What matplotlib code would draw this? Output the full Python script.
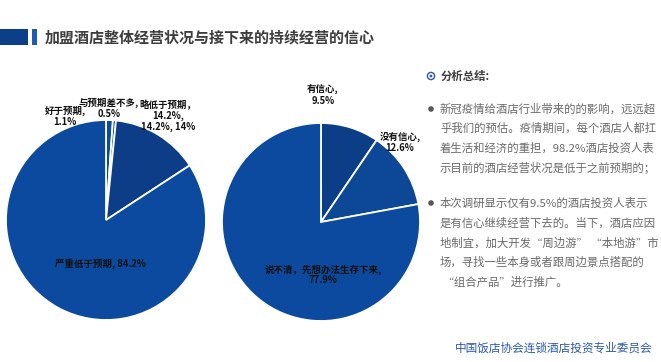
import matplotlib.pyplot as plt
from matplotlib.patches import Rectangle, Ellipse

plt.rcParams['font.family'] = ['Noto Sans CJK SC', 'DejaVu Sans']

W, H = 661, 362

title = '加盟酒店整体经营状况与接下来的持续经营的信心'

# left pie: current operation vs expectation
left_cats = ['好于预期', '与预期差不多', '略低于预期', '严重低于预期']
left_vals = [1.1, 0.5, 14.2, 84.2]
left_colors = ['#0b4a9d', '#0b4a9d', '#0c3d86', '#0b4a9e']
left_texts = ['好于预期,\n1.1%', '与预期差不多,\n0.5%',
              '略低于预期，\n14.2%,\n14.2%, 14%', '严重低于预期, 84.2%']

# right pie: confidence to keep operating
right_cats = ['有信心', '没有信心', '说不清，先想办法生存下来']
right_vals = [9.5, 12.6, 77.9]
right_colors = ['#0b3e86', '#0c4896', '#0b4a9e']
right_texts = ['有信心,\n9.5%', '没有信心,\n12.6%', '说不清，先想办法生存下来,\n77.9%']

summary_head = '分析总结:'
para1 = ['新冠疫情给酒店行业带来的的影响，远远超',
         '乎我们的预估。疫情期间，每个酒店人都扛',
         '着生活和经济的重担，98.2%酒店投资人表',
         '示目前的酒店经营状况是低于之前预期的；']
para2 = ['本次调研显示仅有9.5%的酒店投资人表示',
         '是有信心继续经营下去的。当下，酒店应因',
         '地制宜，加大开发“周边游” “本地游”市',
         '场，寻找一些本身或者跟周边景点搭配的',
         ' “组合产品”进行推广。']
footer = '中国饭店协会连锁酒店投资专业委员会'


def fx(x):
    return x / W


def fy(y):
    return 1 - y / H


def dot(x, y, r, **kw):
    fig.patches.append(Ellipse((fx(x), fy(y)), 2 * r / W, 2 * r / H,
                               transform=fig.transFigure, **kw))


fig = plt.figure(figsize=(W / 100, H / 100), dpi=100)
fig.patch.set_facecolor('white')


def pie_axes(cx, cy, r):
    ax = fig.add_axes([fx(cx - r), fy(cy + r), 2 * r / W, 2 * r / H])
    return ax


ax1 = pie_axes(106, 220, 100)
ax1.pie(left_vals, colors=left_colors, startangle=90, counterclock=False,
        wedgeprops=dict(edgecolor='white', linewidth=1.3))
ax1.set_xlim(-1, 1)
ax1.set_ylim(-1, 1)
ax1.axis('off')

ax2 = pie_axes(321, 222, 99)
ax2.pie(right_vals, colors=right_colors, startangle=90, counterclock=False,
        wedgeprops=dict(edgecolor='white', linewidth=1.3))
ax2.set_xlim(-1, 1)
ax2.set_ylim(-1, 1)
ax2.axis('off')

lab_kw = dict(fontsize=6.8, fontweight='bold', color='#111111',
              ha='center', va='top', linespacing=1.05)
left_pos = [(65, 106), (109, 98), (168, 100), (100, 258)]
for (x, y), t in zip(left_pos, left_texts):
    fig.text(fx(x), fy(y), t, **lab_kw)
right_pos = [(323, 85), (400, 132), (323, 264)]
for (x, y), t in zip(right_pos, right_texts):
    fig.text(fx(x), fy(y), t, **lab_kw)

# header band
fig.patches.append(Rectangle((0, fy(45)), fx(28), 16 / H, transform=fig.transFigure,
                             facecolor='#0c3f8a', edgecolor='none'))
fig.patches.append(Rectangle((fx(32), fy(45)), 5 / W, 16 / H, transform=fig.transFigure,
                             facecolor='#1f5bb5', edgecolor='none'))
fig.text(fx(45), fy(37.5), title, fontsize=10.8, fontweight='bold', color='#3d3d3d',
         ha='left', va='center')

# summary panel
dot(431, 76, 3.6, facecolor='none', edgecolor='#2a5aa8', linewidth=1)
dot(431, 76, 1.4, facecolor='#2a5aa8', edgecolor='none')
fig.text(fx(441), fy(76), summary_head, fontsize=8.2, fontweight='bold',
         color='#3d3d3d', ha='left', va='center')

txt_kw = dict(fontsize=8.2, color='#6a6a6a', ha='left', va='center')
for i, line in enumerate(para1):
    fig.text(fx(440), fy(109 + 19.5 * i), line, **txt_kw)
for i, line in enumerate(para2):
    fig.text(fx(440), fy(203 + 19.8 * i), line, **txt_kw)
for by in (109, 203):
    dot(431, by, 2.8, facecolor='#555555', edgecolor='none')

fig.text(fx(455), fy(348), footer, fontsize=8.4, color='#2b5ba8',
         ha='left', va='center')

fig.savefig('out.png', dpi=100)
